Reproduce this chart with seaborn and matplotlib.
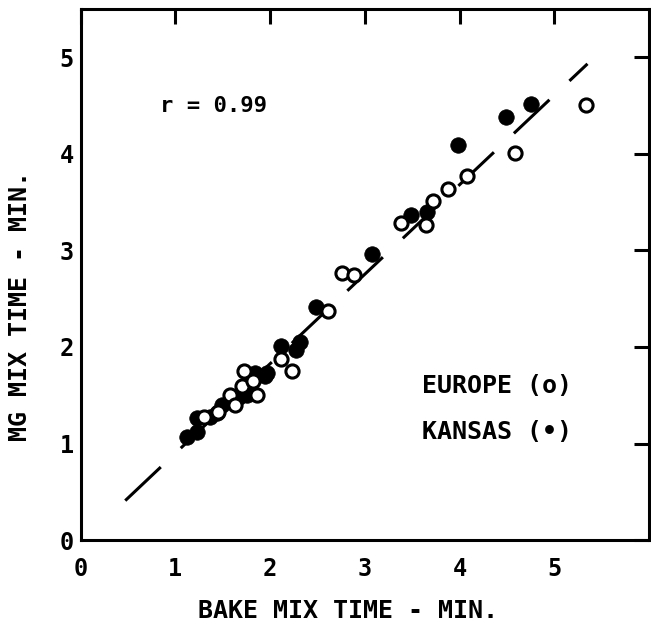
import pandas as pd
import numpy as np
import matplotlib
matplotlib.use("Agg")
import matplotlib.pyplot as plt
import seaborn as sns

# Europe samples (open circles)
europe_bake = [1.30, 1.45, 1.58, 1.63, 1.70, 1.72, 1.86, 1.82, 2.11, 2.23,
               2.61, 2.76, 2.89, 3.38, 3.64, 3.72, 3.88, 4.08, 4.58, 5.33]
europe_mg = [1.28, 1.33, 1.50, 1.40, 1.60, 1.75, 1.50, 1.65, 1.88, 1.75,
             2.37, 2.77, 2.75, 3.28, 3.26, 3.51, 3.63, 3.77, 4.01, 4.50]

# Kansas samples (filled circles)
kansas_bake = [1.12, 1.23, 1.23, 1.37, 1.44, 1.49, 1.67, 1.76, 1.79, 1.84, 1.97,
               1.95, 2.11, 2.27, 2.31, 2.48, 3.08, 3.49, 3.66, 3.98, 4.49, 4.75]
kansas_mg = [1.07, 1.12, 1.26, 1.28, 1.32, 1.40, 1.48, 1.50, 1.61, 1.73, 1.73,
             1.70, 2.01, 1.97, 2.05, 2.41, 2.96, 3.37, 3.40, 4.09, 4.38, 4.51]

# regression line end points
line_x = [0.47, 5.35]
line_y = [0.41, 4.93]

ticks = [0, 1, 2, 3, 4, 5]

sns.set_style("white")
plt.rcParams['font.family'] = ['DejaVu Sans Mono', 'DejaVu Sans']
plt.rcParams['text.color'] = 'black'
plt.rcParams['axes.labelcolor'] = 'black'
plt.rcParams['xtick.color'] = 'black'
plt.rcParams['ytick.color'] = 'black'

fig = plt.figure(figsize=(6.51, 6.26), dpi=100)
ax = fig.add_axes([0.124, 0.137, 0.873, 0.849])

eu = pd.DataFrame({'bake': europe_bake, 'mg': europe_mg})
ks = pd.DataFrame({'bake': kansas_bake, 'mg': kansas_mg})

sns.lineplot(x=line_x, y=line_y, ax=ax, color='black', linewidth=2.2,
             linestyle=(0, (16, 9)), zorder=1)
sns.scatterplot(data=ks, x='bake', y='mg', ax=ax, color='black', s=125,
                edgecolor='black', linewidth=0.5, zorder=3)
sns.scatterplot(data=eu, x='bake', y='mg', ax=ax, facecolor='white', s=90,
                edgecolor='black', linewidth=2.2, zorder=4)

ax.set_xlim(0, 6)
ax.set_ylim(0, 5.5)
ax.set_xticks(ticks)
ax.set_yticks(ticks)
ax.tick_params(direction='in', length=11, width=2.2, top=True, right=True,
               labelsize=17)
ax.tick_params(axis='x', pad=12)
ax.tick_params(axis='y', pad=5)
for lab in ax.get_xticklabels() + ax.get_yticklabels():
    lab.set_fontweight('bold')
for sp in ax.spines.values():
    sp.set_linewidth(2.2)
    sp.set_color('black')

ax.set_xlabel('BAKE MIX TIME - MIN.', fontsize=18, fontweight='bold')
ax.set_ylabel('MG MIX TIME - MIN.', fontsize=18, fontweight='bold')
ax.xaxis.set_label_coords(0.47, -0.11)
ax.yaxis.set_label_coords(-0.085, 0.44)

ax.text(1.40, 4.49, 'r = 0.99', fontsize=16, fontweight='bold',
        ha='center', va='center')
ax.text(3.6, 1.60, 'EUROPE (o)', fontsize=18, fontweight='bold',
        ha='left', va='center')
ax.text(3.6, 1.12, 'KANSAS (•)', fontsize=18, fontweight='bold',
        ha='left', va='center')

fig.savefig('out.png', dpi=100)
